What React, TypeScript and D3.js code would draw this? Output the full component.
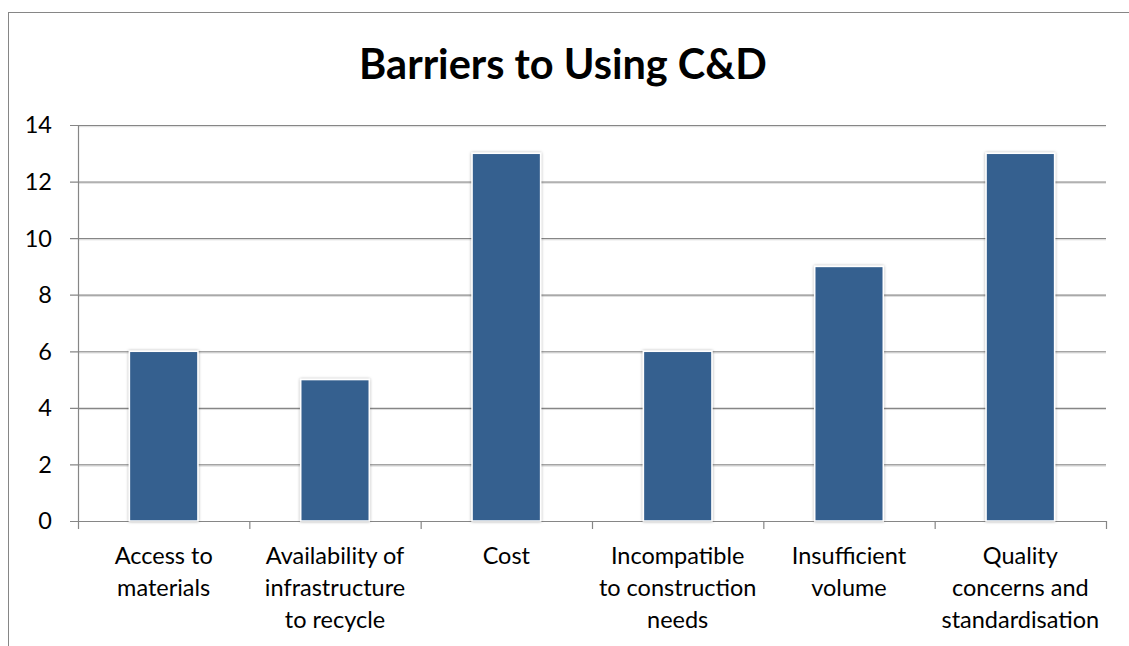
import React from 'react';
import * as d3 from 'd3';

// category labels, split into lines as in the chart
const categories: string[][] = [
  ['Access to', 'materials'],
  ['Availability of', 'infrastructure', 'to recycle'],
  ['Cost'],
  ['Incompatible', 'to construction', 'needs'],
  ['Insufficient', 'volume'],
  ['Quality', 'concerns and', 'standardisation'],
];
const values: number[] = [6, 5, 13, 6, 9, 13];
const yTicks: number[] = [0, 2, 4, 6, 8, 10, 12, 14];
const title = 'Barriers to Using C&D';

const W = 1129;
const H = 646;
const plot = { left: 78, right: 1106, top: 125, bottom: 521 };
const font = 'Lato, Carlito, Calibri, sans-serif';
const barColor = '#36608f';
const gridColor = '#868686';

const App: React.FC = () => {
  const x = d3
    .scaleBand<number>()
    .domain(d3.range(categories.length))
    .range([plot.left, plot.right])
    .paddingInner(0.6)
    .paddingOuter(0.3);
  const band = (plot.right - plot.left) / categories.length;
  const y = d3.scaleLinear().domain([0, 14]).range([plot.bottom, plot.top]);

  return (
    <svg
      width={W}
      height={H}
      style={{ position: 'fixed', left: 0, top: 0, background: '#fff' }}
    >
      <defs>
        <filter id="barShadow" x="-20%" y="-5%" width="140%" height="110%">
          <feDropShadow dx="0" dy="0" stdDeviation="1.6" floodColor="#000" floodOpacity="0.35" />
        </filter>
      </defs>
      {/* chart border */}
      <rect x={8.5} y={12.5} width={1200} height={700} fill="#fff" stroke={gridColor} strokeWidth={1} />

      {/* title */}
      <text
        x={563}
        y={79}
        textAnchor="middle"
        fontFamily={font}
        fontWeight="bold"
        fontSize={41.5}
        fill="#000"
      >
        {title}
      </text>

      {/* gridlines */}
      {yTicks.map((t) => (
        <g key={t}>
          <line x1={plot.left - 8} x2={plot.right} y1={y(t) + 0.5} y2={y(t) + 0.5} stroke={gridColor} strokeWidth={1.2} />
          {t > 0 && (
            <line x1={plot.left} x2={plot.right} y1={y(t) + 1.7} y2={y(t) + 1.7} stroke="#dcdcdc" strokeWidth={1} />
          )}
          <text
            x={52}
            y={y(t)}
            dy="0.36em"
            textAnchor="end"
            fontFamily={font}
            fontSize={23.5}
            fill="#000"
          >
            {t}
          </text>
        </g>
      ))}

      {/* y axis */}
      <line x1={plot.left + 0.5} x2={plot.left + 0.5} y1={plot.top} y2={plot.bottom} stroke={gridColor} strokeWidth={1.2} />

      {/* x ticks */}
      {d3.range(categories.length + 1).map((i) => (
        <line
          key={i}
          x1={plot.left + i * band + 0.5}
          x2={plot.left + i * band + 0.5}
          y1={plot.bottom}
          y2={plot.bottom + 8}
          stroke={gridColor}
          strokeWidth={1.2}
        />
      ))}

      {/* bars */}
      {values.map((v, i) => (
        <rect
          key={i}
          x={x(i)}
          y={y(v)}
          width={x.bandwidth()}
          height={y(0) - y(v)}
          fill={barColor}
          stroke="#fff"
          strokeWidth={1.5}
          filter="url(#barShadow)"
        />
      ))}

      {/* category labels */}
      {categories.map((lines, i) => (
        <text
          key={i}
          x={(x(i) as number) + x.bandwidth() / 2}
          y={564}
          textAnchor="middle"
          fontFamily={font}
          fontSize={23.5}
          fill="#000"
        >
          {lines.map((l, j) => (
            <tspan key={j} x={(x(i) as number) + x.bandwidth() / 2} dy={j === 0 ? 0 : 32}>
              {l}
            </tspan>
          ))}
        </text>
      ))}
    </svg>
  );
};

export default App;
